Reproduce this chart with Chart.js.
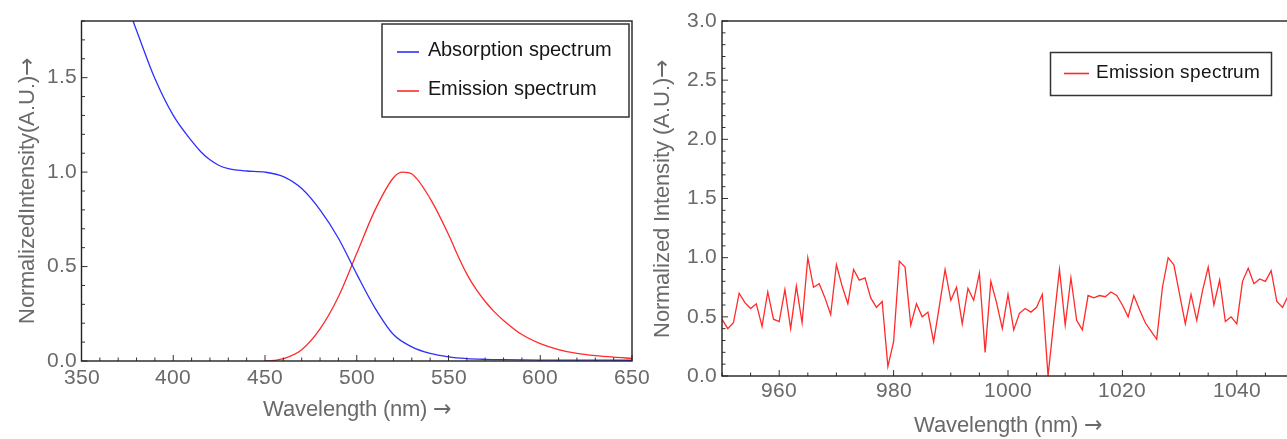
<!DOCTYPE html>
<html><head><meta charset="utf-8">
<script src="https://cdn.jsdelivr.net/npm/chart.js@4.4.1/dist/chart.umd.min.js"></script>
<style>
@font-face { font-family: 'ChartSans'; src: local('Liberation Sans'), local('LiberationSans'), local('LiberationSans-Regular'); }
@font-face { font-family: 'ChartSans'; src: local('DejaVu Sans'), local('DejaVuSans'); unicode-range: U+2190-21FF; }
html,body{margin:0;padding:0;background:#fff;overflow:hidden;width:1287px;height:439px;position:relative;}
#c1{position:absolute;left:0;top:0;}
#c2{position:absolute;left:645px;top:0;}
</style></head><body>
<canvas id="c1" width="665" height="439"></canvas>
<canvas id="c2" width="660" height="439"></canvas>
<script>
// ---------- Left chart data ----------
const absWavelengths = [370, 380, 390, 400, 410, 415, 420, 425, 430, 435, 440, 450, 460, 470, 480, 490, 500, 510, 520, 530, 540, 550, 560, 570, 580, 600, 650];
const absValues      = [2.01, 1.75, 1.495, 1.30, 1.165, 1.108, 1.065, 1.035, 1.018, 1.010, 1.006, 1.0, 0.976, 0.913, 0.80, 0.65, 0.46, 0.28, 0.14, 0.075, 0.04, 0.022, 0.013, 0.009, 0.007, 0.005, 0.004];
const emWavelengths  = [450, 455, 460, 470, 480, 490, 500, 510, 520, 525, 530, 540, 550, 555, 560, 565, 570, 575, 580, 590, 600, 610, 620, 630, 640, 650];
const emValues       = [0.0, 0.003, 0.012, 0.06, 0.17, 0.34, 0.57, 0.80, 0.97, 1.0, 0.99, 0.86, 0.67, 0.56, 0.46, 0.38, 0.315, 0.26, 0.215, 0.14, 0.092, 0.06, 0.04, 0.028, 0.02, 0.014];
const leftXTicks = [350, 400, 450, 500, 550, 600, 650];
const leftYTicks = [0.0, 0.5, 1.0, 1.5];

// ---------- Right chart data ----------
const nirWavelengths = [950,951,952,953,954,955,956,957,958,959,960,961,962,963,964,965,966,967,968,969,970,971,972,973,974,975,976,977,978,979,980,981,982,983,984,985,986,987,988,989,990,991,992,993,994,995,996,997,998,999,1000,1001,1002,1003,1004,1005,1006,1007,1008,1009,1010,1011,1012,1013,1014,1015,1016,1017,1018,1019,1020,1021,1022,1023,1024,1025,1026,1027,1028,1029,1030,1031,1032,1033,1034,1035,1036,1037,1038,1039,1040,1041,1042,1043,1044,1045,1046,1047,1048,1049,1050];
const nirValues = [0.48,0.40,0.45,0.70,0.62,0.57,0.61,0.42,0.71,0.48,0.46,0.73,0.40,0.76,0.45,1.00,0.75,0.78,0.66,0.52,0.94,0.76,0.61,0.90,0.81,0.83,0.66,0.58,0.63,0.08,0.29,0.97,0.92,0.43,0.61,0.50,0.54,0.29,0.59,0.90,0.64,0.75,0.44,0.74,0.64,0.87,0.20,0.80,0.62,0.40,0.69,0.39,0.53,0.57,0.54,0.58,0.69,0.00,0.46,0.90,0.43,0.83,0.47,0.39,0.68,0.66,0.68,0.67,0.71,0.68,0.60,0.50,0.68,0.56,0.45,0.38,0.31,0.75,1.00,0.94,0.69,0.44,0.69,0.47,0.72,0.92,0.60,0.81,0.46,0.50,0.44,0.80,0.91,0.78,0.82,0.80,0.89,0.63,0.58,0.68,0.75];
const rightXTicks = [960, 980, 1000, 1020, 1040];
const rightYTicks = [0.0, 0.5, 1.0, 1.5, 2.0, 2.5, 3.0];

const FONT = "ChartSans, 'Liberation Sans', Arial, sans-serif";
const GRAY = '#6a6a6a';

const toXY = (xs, ys) => xs.map((x, i) => ({x: x, y: ys[i]}));

const framePlugin = {
  id: 'frameLegend',
  afterDatasetsDraw(chart, args, o) {
    const ctx = chart.ctx, a = chart.chartArea;
    const xs = chart.scales.x, ys = chart.scales.y;
    ctx.save();
    ctx.strokeStyle = '#333';
    ctx.lineWidth = 1;
    for (let i = 0; ; i++) {
      const v = o.xMinorStart + i * o.xMinor;
      if (v > xs.max + 1e-9) break;
      if (v < xs.min - 1e-9) continue;
      const major = o.xMajor.some(m => Math.abs(m - v) < 1e-6);
      const px = xs.getPixelForValue(v);
      ctx.beginPath(); ctx.moveTo(px, a.bottom); ctx.lineTo(px, a.bottom - (major ? 6 : 3.5)); ctx.stroke();
    }
    for (let i = 0; ; i++) {
      const v = ys.min + i * o.yMinor;
      if (v > ys.max + 1e-9) break;
      const major = o.yMajor.some(m => Math.abs(m - v) < 1e-6);
      const py = ys.getPixelForValue(v);
      ctx.beginPath(); ctx.moveTo(a.left, py); ctx.lineTo(a.left + (major ? 6 : 3.5), py); ctx.stroke();
    }
    ctx.strokeStyle = '#222';
    ctx.lineWidth = 1.4;
    ctx.strokeRect(a.left, a.top, a.right - a.left, a.bottom - a.top);
    const L = o.legend;
    ctx.fillStyle = '#fff';
    ctx.fillRect(L.x, L.y, L.w, L.h);
    ctx.strokeStyle = '#333';
    ctx.lineWidth = 1.5;
    ctx.strokeRect(L.x, L.y, L.w, L.h);
    ctx.font = L.font;
    ctx.textBaseline = 'middle';
    ctx.textAlign = 'left';
    chart.data.datasets.forEach((ds, i) => {
      const e = L.entries[i];
      ctx.strokeStyle = ds.borderColor;
      ctx.lineWidth = 1.6;
      ctx.beginPath(); ctx.moveTo(e.x1, e.ly); ctx.lineTo(e.x2, e.ly); ctx.stroke();
      ctx.fillStyle = '#161616';
      ctx.fillText(ds.label, e.tx, e.ty);
    });
    ctx.restore();
  }
};

function makeOpts(cfg) {
  return {
    responsive: false,
    animation: false,
    events: [],
    layout: { padding: cfg.padding },
    plugins: {
      legend: { display: false },
      tooltip: { enabled: false },
      frameLegend: cfg.frame
    },
    scales: {
      x: {
        type: 'linear', min: cfg.xMin, max: cfg.xMax,
        afterBuildTicks: s => { s.ticks = cfg.xTicks.map(v => ({value: v})); },
        afterFit: s => { s.height = cfg.xHeight; },
        grid: { display: false, drawTicks: false },
        border: { display: false },
        ticks: { color: GRAY, font: { family: FONT, size: 21 }, padding: cfg.xTickPad, maxRotation: 0, autoSkip: false, callback: v => String(v) },
        title: { display: true, text: cfg.xTitle, color: GRAY, font: { family: FONT, size: 21.5 }, padding: { top: 0, bottom: cfg.xTitlePad } }
      },
      y: {
        type: 'linear', min: cfg.yMin, max: cfg.yMax,
        afterBuildTicks: s => { s.ticks = cfg.yTicks.map(v => ({value: v})); },
        afterFit: s => { s.width = cfg.yWidth; },
        grid: { display: false, drawTicks: false },
        border: { display: false },
        ticks: { color: GRAY, font: { family: FONT, size: 21 }, padding: 5, autoSkip: false, callback: v => Number(v).toFixed(1) },
        title: { display: true, text: cfg.yTitle, color: GRAY, font: { family: FONT, size: 22 }, padding: { top: cfg.yTitlePad, bottom: 0 } }
      }
    }
  };
}

const chart1 = new Chart(document.getElementById('c1'), {
  type: 'line',
  data: {
    datasets: [
      { label: 'Absorption spectrum', data: toXY(absWavelengths, absValues), borderColor: '#2f2fff', borderWidth: 1.3, pointRadius: 0, cubicInterpolationMode: 'monotone', fill: false },
      { label: 'Emission spectrum', data: toXY(emWavelengths, emValues), borderColor: '#ff2a2a', borderWidth: 1.3, pointRadius: 0, cubicInterpolationMode: 'monotone', fill: false }
    ]
  },
  options: makeOpts({
    padding: { top: 21, right: 33, bottom: 0, left: 0 },
    xMin: 350, xMax: 650, yMin: 0, yMax: 1.8,
    xTicks: leftXTicks, yTicks: leftYTicks,
    xHeight: 78, yWidth: 81.5, xTickPad: 5, xTitlePad: 16,
    xTitle: 'Wavelength (nm) \u2192', yTitle: 'NormalizedIntensity(A.U.)\u2192', yTitlePad: 15,
    frame: {
      xMinorStart: 350, xMinor: 10, xMajor: leftXTicks,
      yMinor: 0.1, yMajor: leftYTicks,
      legend: { x: 382, y: 24, w: 247, h: 93, font: '20px ' + FONT,
        entries: [ { x1: 397, x2: 419, ly: 52, tx: 428, ty: 50 }, { x1: 397, x2: 419, ly: 91, tx: 428, ty: 89.5 } ] }
    }
  }),
  plugins: [framePlugin]
});

const chart2 = new Chart(document.getElementById('c2'), {
  type: 'line',
  data: {
    datasets: [
      { label: 'Emission spectrum', data: toXY(nirWavelengths, nirValues), borderColor: '#ff2a2a', borderWidth: 1.3, pointRadius: 0, tension: 0, fill: false }
    ]
  },
  options: makeOpts({
    padding: { top: 21, right: 11, bottom: 0, left: 0 },
    xMin: 950, xMax: 1050, yMin: 0, yMax: 3.0,
    xTicks: rightXTicks, yTicks: rightYTicks,
    xHeight: 63, yWidth: 77, xTickPad: 3, xTitlePad: 0,
    xTitle: 'Wavelength (nm) \u2192', yTitle: 'Normalized Intensity (A.U.)\u2192', yTitlePad: 5,
    frame: {
      xMinorStart: 950, xMinor: 5, xMajor: rightXTicks,
      yMinor: 0.1, yMajor: rightYTicks,
      legend: { x: 405.5, y: 52.5, w: 221, h: 43, font: '19px ' + FONT,
        entries: [ { x1: 419, x2: 444, ly: 73.5, tx: 451, ty: 73 } ] }
    }
  }),
  plugins: [framePlugin]
});

if (document.fonts && document.fonts.load) {
  document.fonts.load("21px ChartSans", "Wavelength (nm) \u2192").then(() => {
    chart1.update('none');
    chart2.update('none');
  }).catch(() => {});
}
</script>
</body></html>
